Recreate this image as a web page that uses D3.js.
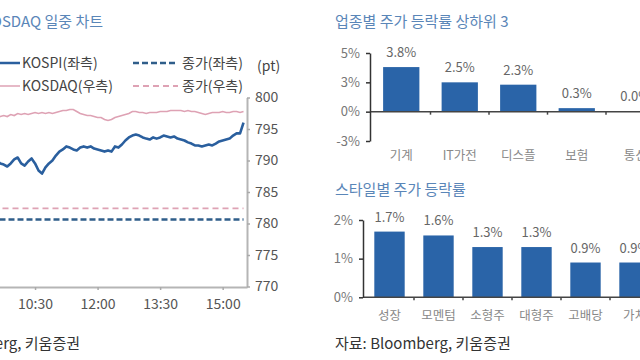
<!DOCTYPE html>
<html><head><meta charset="utf-8">
<script src="https://cdn.jsdelivr.net/npm/d3@7"></script>
<style>
html,body{margin:0;padding:0;background:#fff;}
svg{display:block;font-family:"Noto Sans CJK KR","Noto Sans",sans-serif;}
</style></head>
<body>
<svg id="c" width="640" height="360"></svg>
<script>
// ---------- data ----------
const times = ["09:00","09:05","09:10","09:15","09:20","09:25","09:30","09:35","09:40","09:45","09:50","09:55",
"10:00","10:05","10:10","10:15","10:20","10:25","10:30","10:35","10:40","10:45","10:50","10:55",
"11:00","11:05","11:10","11:15","11:20","11:25","11:30","11:35","11:40","11:45","11:50","11:55",
"12:00","12:05","12:10","12:15","12:20","12:25","12:30","12:35","12:40","12:45","12:50","12:55",
"13:00","13:05","13:10","13:15","13:20","13:25","13:30","13:35","13:40","13:45","13:50","13:55",
"14:00","14:05","14:10","14:15","14:20","14:25","14:30","14:35","14:40","14:45","14:50","14:55",
"15:00","15:05","15:10","15:15","15:20","15:25","15:30"];
const kospi = [2489.1,2491.2,2493.3,2492.1,2494.2,2492.5,2491.2,2493.3,2492.1,2491.6,2490.8,2492.1,
2493.8,2494.6,2492.1,2491.2,2492.9,2494.2,2492.1,2489.1,2487.8,2490.4,2492.1,2493.3,
2495.4,2497.1,2498.0,2499.3,2498.8,2498.0,2497.6,2498.8,2499.3,2498.8,2499.3,2498.4,
2498.0,2497.6,2497.1,2497.6,2497.1,2499.3,2498.8,2500.1,2501.8,2503.1,2503.9,2504.3,
2503.9,2503.1,2502.6,2502.2,2503.1,2502.6,2503.1,2503.9,2503.5,2503.1,2503.5,2502.6,
2502.2,2501.8,2501.0,2500.5,2499.7,2499.7,2499.3,2499.7,2500.1,2499.7,2500.5,2501.4,
2501.8,2502.2,2502.6,2503.9,2504.8,2504.8,2509.4];
const kosdaq = [796.67,796.83,796.67,796.98,796.83,797.14,796.98,796.83,796.98,797.14,796.98,797.30,
797.14,797.46,797.30,797.46,797.30,797.46,797.62,797.46,797.62,797.46,797.62,797.46,
797.62,797.78,797.94,797.94,798.10,798.10,797.78,797.46,797.30,797.14,797.14,796.98,
796.83,796.83,796.51,796.35,796.51,796.83,796.98,797.14,797.30,797.46,797.78,797.78,
797.62,797.62,797.46,797.62,797.62,797.62,797.78,797.78,797.78,797.94,797.94,797.94,
797.94,797.78,797.94,797.78,797.78,797.62,797.46,797.30,797.46,797.62,797.62,797.62,
797.78,797.62,797.62,797.78,797.78,797.62,797.78];
const kospiPrevClose = 2468.4;
const kosdaqPrevClose = 782.4;
const timeTicks = ["10:30","12:00","13:30","15:00"];
const rightTicks = [770,775,780,785,790,795,800];

const sectors = ["기계","IT가전","디스플","보험","통신"];
const sectorValues = [3.8,2.5,2.3,0.3,0.04];
const sectorLabels = ["3.8%","2.5%","2.3%","0.3%","0.0%"];
const sectorTicks = [-2.5,0,2.5,5];
const sectorTickLabels = ["-3%","0%","3%","5%"];

const styles = ["성장","모멘텀","소형주","대형주","고배당","가치"];
const styleValues = [1.7,1.6,1.3,1.3,0.9,0.9];
const styleTicks = [0,1,2];
const styleTickLabels = ["0%","1%","2%"];

// ---------- helpers ----------
const svg = d3.select("#c");
const toMin = s => { const [h,m] = s.split(":").map(Number); return h*60+m; };
const BLUE = "#2a5f9e", PINK = "#dea2b4", BAR = "#2a64a8";

// ---------- left line chart ----------
const x = d3.scaleLinear().domain([toMin("09:00"), toMin("15:35")]).range([-27.5, 247]);
const yL = d3.scaleLinear().domain([2440, 2520]).range([286.5, 97.5]);
const yR = d3.scaleLinear().domain([770, 800]).range([286.5, 97.5]);

svg.append("text").attr("x",103).attr("y",27).attr("text-anchor","end")
  .attr("font-size",15).attr("fill","#5a86b8").text("KOSPI, KOSDAQ 일중 차트");

// legend
const lg = svg.append("g").attr("font-size",14).attr("fill","#444");
lg.append("line").attr("x1",-10).attr("x2",20).attr("y1",63).attr("y2",63).attr("stroke",BLUE).attr("stroke-width",2.5);
lg.append("text").attr("x",22).attr("y",68).text("KOSPI(좌측)");
lg.append("line").attr("x1",133).attr("x2",178).attr("y1",63).attr("y2",63).attr("stroke","#2f5e8a").attr("stroke-width",2.5).attr("stroke-dasharray","6,3");
lg.append("text").attr("x",182).attr("y",68).text("종가(좌측)");
lg.append("line").attr("x1",-10).attr("x2",20).attr("y1",86).attr("y2",86).attr("stroke",PINK).attr("stroke-width",1.5);
lg.append("text").attr("x",22).attr("y",91).text("KOSDAQ(우측)");
lg.append("line").attr("x1",133).attr("x2",178).attr("y1",86).attr("y2",86).attr("stroke",PINK).attr("stroke-width",1.8).attr("stroke-dasharray","6,4");
lg.append("text").attr("x",182).attr("y",91).text("종가(우측)");
lg.append("text").attr("x",257).attr("y",71).text("(pt)");

// prev close lines
svg.append("line").attr("x1",x(toMin("09:00"))).attr("x2",x(toMin("15:30")))
  .attr("y1",yR(kosdaqPrevClose)).attr("y2",yR(kosdaqPrevClose))
  .attr("stroke",PINK).attr("stroke-width",1.8).attr("stroke-dasharray","6,4");
svg.append("line").attr("x1",x(toMin("09:00"))).attr("x2",x(toMin("15:30")))
  .attr("y1",yL(kospiPrevClose)).attr("y2",yL(kospiPrevClose))
  .attr("stroke","#2f5e8a").attr("stroke-width",2.5).attr("stroke-dasharray","6,3");

// series lines
svg.append("path").datum(times.map((t,i)=>[toMin(t),kosdaq[i]]))
  .attr("fill","none").attr("stroke",PINK).attr("stroke-width",1.6)
  .attr("d", d3.line().x(d=>x(d[0])).y(d=>yR(d[1])));
svg.append("path").datum(times.map((t,i)=>[toMin(t),kospi[i]]))
  .attr("fill","none").attr("stroke",BLUE).attr("stroke-width",2.6).attr("stroke-linejoin","round")
  .attr("d", d3.line().x(d=>x(d[0])).y(d=>yL(d[1])));

// axes
const ax = svg.append("g").attr("transform","translate(0,287)")
  .call(d3.axisBottom(x).tickValues(timeTicks.map(toMin)).tickFormat((d,i)=>timeTicks[i]).tickSize(3).tickSizeOuter(0).tickPadding(9));
const ay = svg.append("g").attr("transform","translate(247,0)")
  .call(d3.axisRight(yR).tickValues(rightTicks).tickSize(3).tickSizeOuter(0).tickPadding(5));
[ax, ay].forEach(g=>{
  g.select(".domain").attr("stroke","#b5b5b5").attr("stroke-width",2);
  g.selectAll(".tick line").attr("stroke","#aaa").attr("stroke-width",1.5);
  g.selectAll(".tick text").attr("fill","#555").attr("font-size",14)
    .attr("font-family","\"Noto Sans CJK KR\",sans-serif");
});

svg.append("text").attr("x",80).attr("y",349).attr("text-anchor","end")
  .attr("font-size",15).attr("fill","#333").text("자료: Bloomberg, 키움증권");

// ---------- bar chart helper ----------
function barChart(o){
  const g = svg.append("g");
  g.append("text").attr("x",335).attr("y",o.titleY).attr("font-size",15).attr("fill","#5a86b8").text(o.title);
  const xb = d3.scaleBand().domain(o.cats).range([o.x0, o.x0 + o.step*o.cats.length]).paddingInner(0.38).paddingOuter(0.19);
  const yb = d3.scaleLinear().domain(o.domain).range(o.yRange);
  // bars
  g.selectAll("rect").data(o.vals).join("rect")
    .attr("x",(d,i)=>xb(o.cats[i])).attr("width",xb.bandwidth())
    .attr("y",d=>yb(Math.max(0,d))).attr("height",d=>Math.abs(yb(d)-yb(0)))
    .attr("fill",BAR);
  // value labels
  g.selectAll("text.val").data(o.vals).join("text").attr("class","val")
    .attr("x",(d,i)=>xb(o.cats[i])+xb.bandwidth()/2).attr("y",d=>yb(d)-10)
    .attr("text-anchor","middle").attr("font-size",13).attr("fill","#666")
    .text((d,i)=>o.labels[i]);
  // category labels
  g.selectAll("text.cat").data(o.cats).join("text").attr("class","cat")
    .attr("x",d=>xb(d)+xb.bandwidth()/2).attr("y",o.catY)
    .attr("text-anchor","middle").attr("font-size",12.5).attr("fill","#888").text(d=>d);
  // zero line
  g.append("line").attr("x1",o.axisX).attr("x2",660).attr("y1",yb(0)).attr("y2",yb(0))
    .attr("stroke","#444").attr("stroke-width",1.5);
  // boundary ticks on zero line
  g.selectAll("line.bt").data(o.cats.slice(1)).join("line").attr("class","bt")
    .attr("x1",d=>xb(d)-xb.step()*xb.paddingInner()/2).attr("x2",d=>xb(d)-xb.step()*xb.paddingInner()/2)
    .attr("y1",yb(0)).attr("y2",yb(0)+3).attr("stroke","#444").attr("stroke-width",1.5);
  // y axis
  const a = g.append("g").attr("transform",`translate(${o.axisX},0)`)
    .call(d3.axisLeft(yb).tickValues(o.ticks).tickFormat((d,i)=>o.tickLabels[i]).tickSize(4).tickSizeOuter(0).tickPadding(6));
  a.select(".domain").attr("stroke","#333").attr("stroke-width",1.5);
  a.selectAll(".tick line").attr("stroke","#333").attr("stroke-width",1.5);
  a.selectAll(".tick text").attr("fill","#777").attr("font-size",13)
    .attr("font-family","\"Noto Sans CJK KR\",sans-serif");
}

barChart({title:"업종별 주가 등락률 상하위 3", titleY:27, cats:sectors, vals:sectorValues, labels:sectorLabels,
  x0:372, step:58.5, axisX:370, domain:[-2.5,5], yRange:[141,53], ticks:sectorTicks, tickLabels:sectorTickLabels, catY:160});

barChart({title:"스타일별 주가 등락률", titleY:195, cats:styles, vals:styleValues, labels:styleValues.map(v=>v.toFixed(1)+"%"),
  x0:365, step:49, axisX:363, domain:[0,2], yRange:[297.3,220], ticks:styleTicks, tickLabels:styleTickLabels, catY:320});

svg.append("text").attr("x",335).attr("y",349).attr("font-size",15).attr("fill","#333").text("자료: Bloomberg, 키움증권");
</script>
</body></html>
